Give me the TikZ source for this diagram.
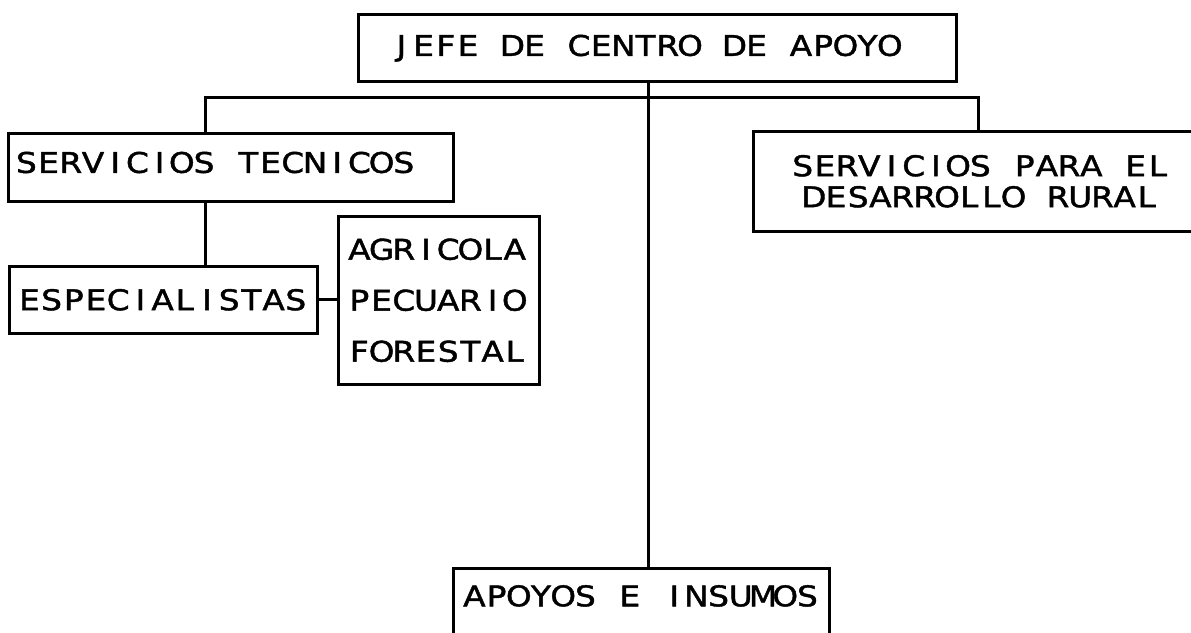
\documentclass[tikz,border=0pt]{standalone}
\usepackage{fontspec}
\usepackage{tikz}
\usetikzlibrary{calc}
\newfontfamily\plotfont[FakeStretch=1.15,FakeBold=1.5]{DejaVu Sans}
\newcommand{\letra}[1][31]{\plotfont\fontsize{28.5}{#1}\selectfont}
% every character in a cell of the same width, as on a plotter
\ExplSyntaxOn
\NewDocumentCommand\celdas{m}{\str_map_inline:nn {#1} {\makebox[22.2pt]{##1}}}
\ExplSyntaxOff

\begin{document}
\begin{tikzpicture}[x=1pt,y=-1pt,
  caja/.style={draw,line width=2.6pt,inner ysep=0pt,anchor=north west,align=left,font=\letra},
  enlace/.style={draw,line width=3pt}]
\useasboundingbox (0,0) rectangle (1191,632);
\clip (0,0) rectangle (1191,632);

% Boxes of the chart
\node[caja,minimum height=67,inner xsep=32,text width=534,text depth=5] (jefe) at (357,13) {\celdas{JEFE DE CENTRO DE APOYO}};
\node[caja,minimum height=68,inner xsep=7,text width=431,text depth=10] (tecnicos) at (7,132) {\celdas{SERVICIOS TECNICOS}};
\node[caja,minimum height=100,inner xsep=10,text width=434,align=center] (rural) at (752,130) {\celdas{SERVICIOS PARA EL}\\\celdas{DESARROLLO RURAL}};
\node[caja,minimum height=67,inner xsep=9,text width=290] (especialistas) at (8,265) {\celdas{ESPECIALISTAS}};
\node[caja,minimum height=168,inner xsep=10,text width=181,font={\letra[51]}] (ramas) at (337,215) {\celdas{AGRICOLA}\\\celdas{PECUARIO}\\\celdas{FORESTAL}};
\node[caja,inner xsep=10,inner ysep=10,text height=28,text depth=30,text width=356] (apoyos) at (452,567) {\celdas{APOYOS E INSUMOS}};

% Connecting lines
\coordinate (barraL) at (205,97);
\coordinate (barraR) at (978,97);
\coordinate (eje) at (648,97);
\path[enlace] (barraL |- tecnicos.north) -- (barraL) -- (barraR) -- (barraR |- rural.north);
\path[enlace] (eje |- jefe.south) -- (eje |- apoyos.north);
\path[enlace] (barraL |- tecnicos.south) -- (barraL |- especialistas.north);
\path[enlace] (especialistas.east) -- (especialistas.east -| ramas.west);
\end{tikzpicture}
\end{document}
